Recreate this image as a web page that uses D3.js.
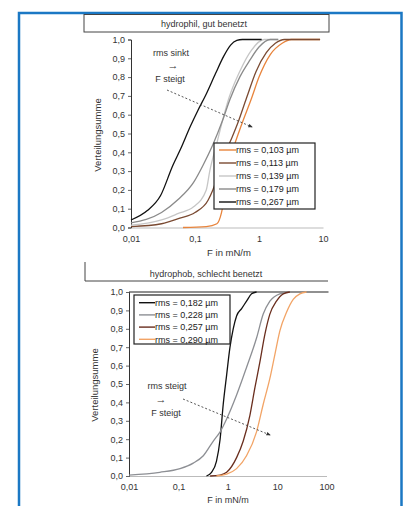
<!DOCTYPE html>
<html><head><meta charset="utf-8">
<script src="https://cdn.jsdelivr.net/npm/d3@7"></script>
<style>
html,body{margin:0;padding:0;background:#fff;}
svg{display:block;font-family:"Liberation Sans",Arial,sans-serif;}
</style></head>
<body>
<svg id="c" width="406" height="506"></svg>
<script>
// ---------- DATA ----------
const yTicks = [0,0.1,0.2,0.3,0.4,0.5,0.6,0.7,0.8,0.9,1.0];
const xTicksTop = [0.01,0.1,1,10];
const xTicksBottom = [0.01,0.1,1,10,100];
const xTickLabelsTop = ["0,01","0,1","1","10"];
const xTickLabelsBottom = ["0,01","0,1","1","10","100"];

const topTitle = "hydrophil, gut benetzt";
const bottomTitle = "hydrophob, schlecht benetzt";
const xTitle = "F in mN/m";
const yTitle = "Verteilungsumme";

const topSeriesNames = ["rms = 0,103 µm","rms = 0,113 µm","rms = 0,139 µm","rms = 0,179 µm","rms = 0,267 µm"];
const topColors = ["#e8843c","#7a4a32","#c6c6c6","#8a8a8a","#111111"];
// [F in mN/m, cumulative share]
const top103 = [[0.065,0],[0.15,0.005],[0.22,0.02],[0.26,0.08],[0.3,0.2],[0.34,0.3],[0.4,0.42],[0.5,0.52],[0.77,0.69],[1.0,0.8],[1.5,0.92],[2.3,0.98],[3.2,1.0],[9,1.0]];
const top113 = [[0.01,0.005],[0.03,0.02],[0.058,0.05],[0.1,0.08],[0.16,0.145],[0.19,0.2],[0.24,0.3],[0.3,0.4],[0.38,0.48],[0.46,0.55],[0.64,0.69],[0.9,0.83],[1.3,0.93],[1.8,0.98],[2.5,1.0],[9,1.0]];
const top139 = [[0.01,0.012],[0.03,0.04],[0.055,0.075],[0.095,0.11],[0.15,0.2],[0.17,0.3],[0.22,0.45],[0.27,0.57],[0.34,0.69],[0.5,0.83],[0.75,0.94],[1.2,1.0],[2,1.0]];
const top179 = [[0.01,0.025],[0.03,0.08],[0.055,0.15],[0.095,0.24],[0.133,0.33],[0.19,0.44],[0.27,0.57],[0.35,0.68],[0.5,0.8],[0.72,0.89],[1.0,0.96],[1.5,1.0],[2,1.0]];
const top267 = [[0.01,0.04],[0.018,0.09],[0.029,0.17],[0.045,0.33],[0.06,0.42],[0.085,0.54],[0.11,0.62],[0.15,0.71],[0.21,0.82],[0.28,0.91],[0.36,0.97],[0.45,0.995],[0.55,1.0],[1.1,1.0]];
const topSeries = [top103, top113, top139, top179, top267];

const bottomSeriesNames = ["rms = 0,182 µm","rms = 0,228 µm","rms = 0,257 µm","rms = 0,290 µm"];
const bottomColors = ["#111111","#8d8f94","#6a2e1e","#f2a466"];
const bot182 = [[0.37,0],[0.47,0.02],[0.59,0.08],[0.7,0.2],[0.81,0.39],[0.95,0.55],[1.11,0.7],[1.29,0.8],[1.51,0.87],[1.91,0.91],[2.4,0.95],[3.04,0.99],[3.83,1.0]];
const bot228 = [[0.01,0.005],[0.042,0.02],[0.108,0.04],[0.2,0.07],[0.32,0.11],[0.51,0.19],[0.7,0.24],[0.95,0.31],[1.51,0.44],[2.4,0.59],[3.83,0.75],[5.23,0.88],[7.13,0.95],[11.4,0.99],[18.1,1.0]];
const bot257 = [[0.44,0],[0.7,0.005],[0.95,0.02],[1.51,0.1],[2.06,0.19],[2.81,0.33],[3.55,0.48],[4.48,0.62],[5.65,0.77],[7.13,0.88],[9.7,0.95],[13.3,0.99],[18.1,1.0]];
const bot290 = [[0.59,0],[0.95,0.01],[1.51,0.04],[2.4,0.11],[3.83,0.24],[5.23,0.39],[7.13,0.53],[9.0,0.66],[11.4,0.79],[15.5,0.89],[21.2,0.96],[28.9,0.99],[39.4,1.0]];
const bottomSeries = [bot182, bot228, bot257, bot290];

const topAnno = ["rms sinkt","→","F steigt"];
const bottomAnno = ["rms steigt","→","F steigt"];

// ---------- DRAW ----------
const svg = d3.select("#c");
const fmtY = d => d3.format(".1f")(d).replace(".", ",");

// outer blue frame
svg.append("path").attr("d","M19,520 V13 H401.5 V520")
  .attr("fill","none").attr("stroke","#1b78c4").attr("stroke-width",2.5);

svg.append("defs").append("marker").attr("id","ah").attr("viewBox","0 0 10 10")
  .attr("refX",8).attr("refY",5).attr("markerWidth",5).attr("markerHeight",5).attr("orient","auto")
  .append("path").attr("d","M0,1 L10,5 L0,9 z").attr("fill","#333");

function panel(opt){
  const g = svg.append("g");
  const x = d3.scaleLog().domain(opt.xDomain).range(opt.xRange);
  const y = d3.scaleLinear().domain([0,1]).range(opt.yRange);

  // title box
  if (opt.fullTitleBox){
    g.append("rect").attr("x",opt.titleBox[0]).attr("y",opt.titleBox[1])
      .attr("width",opt.titleBox[2]-opt.titleBox[0]).attr("height",opt.titleBox[3]-opt.titleBox[1])
      .attr("fill","#fff").attr("stroke","#444").attr("stroke-width",1);
  } else {
    g.append("path").attr("d",`M${opt.titleBox[0]},${opt.titleBox[1]} V${opt.titleBox[3]} H${opt.titleBox[2]}`)
      .attr("fill","none").attr("stroke","#444").attr("stroke-width",1);
  }
  g.append("text").attr("x",opt.titleX).attr("y",opt.titleY).attr("text-anchor","middle")
    .attr("font-size",9).attr("fill","#333").text(opt.title);

  // x axis
  const xa = g.append("g").attr("transform",`translate(0,${opt.yRange[0]})`)
    .call(d3.axisBottom(x).tickValues(opt.xTicks).tickFormat((d,i)=>opt.xLabels[i]).tickSize(0).tickPadding(8));
  xa.select(".domain").attr("stroke","#bbb");
  xa.selectAll("text").attr("font-size",9).attr("fill","#333").attr("font-family","Liberation Sans, Arial, sans-serif");

  // y axis
  const ya = g.append("g").attr("transform",`translate(${opt.xRange[0]},0)`)
    .call(d3.axisLeft(y).tickValues(yTicks).tickFormat(fmtY).tickSize(3).tickPadding(3));
  ya.select(".domain").attr("stroke","#333");
  ya.selectAll("line").attr("stroke","#666");
  ya.selectAll("text").attr("font-size",9).attr("fill","#333").attr("font-family","Liberation Sans, Arial, sans-serif");

  if (opt.topLine){
    g.append("line").attr("x1",opt.xRange[0]).attr("x2",opt.xRange[1]+2)
      .attr("y1",opt.yRange[1]).attr("y2",opt.yRange[1]).attr("stroke","#222").attr("stroke-width",1.2);
  }

  // axis titles
  g.append("text").attr("x",opt.xTitleX).attr("y",opt.xTitleY).attr("text-anchor","middle")
    .attr("font-size",opt.xTitleSize).attr("fill","#333").text(xTitle);
  g.append("text").attr("transform",`translate(${opt.yTitleX},${opt.yTitleY}) rotate(-90)`)
    .attr("text-anchor","middle").attr("font-size",9.5).attr("fill","#333").text(yTitle);

  // curves
  const line = d3.line().x(d=>x(d[0])).y(d=>y(d[1])).curve(d3.curveMonotoneX);
  opt.series.forEach((s,i)=>{
    g.append("path").datum(s).attr("d",line).attr("fill","none")
      .attr("stroke",opt.colors[i]).attr("stroke-width",1.3).attr("stroke-linejoin","round");
  });

  // annotation
  opt.anno.forEach((t,i)=>{
    g.append("text").attr("x",opt.annoX[i]).attr("y",opt.annoY[i]).attr("text-anchor","middle")
      .attr("font-size",i===1?11:9).attr("fill","#333").text(t);
  });
  g.append("line").attr("x1",opt.arrow[0]).attr("y1",opt.arrow[1]).attr("x2",opt.arrow[2]).attr("y2",opt.arrow[3])
    .attr("stroke","#444").attr("stroke-width",0.9).attr("stroke-dasharray","2,2").attr("marker-end","url(#ah)");

  // legend
  const L = opt.legend;
  g.append("rect").attr("x",L.x).attr("y",L.y).attr("width",L.w).attr("height",L.h)
    .attr("fill","#fff").attr("stroke","#222").attr("stroke-width",1.2);
  opt.names.forEach((n,i)=>{
    const yy = L.y0 + i*L.dy;
    g.append("line").attr("x1",L.lx0).attr("x2",L.lx1).attr("y1",yy).attr("y2",yy)
      .attr("stroke",opt.colors[i]).attr("stroke-width",1.4);
    g.append("text").attr("x",L.lx1).attr("y",yy+3.2).attr("font-size",9).attr("fill","#222").text(n);
  });
}

panel({
  xDomain:[0.01,10], xRange:[131,323], yRange:[227.5,39.5],
  xTicks:xTicksTop, xLabels:xTickLabelsTop,
  title:topTitle, titleBox:[84,14.5,329,32], fullTitleBox:true, titleX:204, titleY:27,
  xTitleX:229, xTitleY:256, xTitleSize:9.5, yTitleX:101, yTitleY:135,
  series:topSeries, colors:topColors, names:topSeriesNames,
  anno:topAnno, annoX:[171,173,170], annoY:[56,69,82], arrow:[167,90,252,127],
  legend:{x:214,y:143,w:101,h:66,y0:150,dy:13,lx0:219,lx1:236},
  topLine:false
});

panel({
  xDomain:[0.01,100], xRange:[129,326.5], yRange:[476,292],
  xTicks:xTicksBottom, xLabels:xTickLabelsBottom,
  title:bottomTitle, titleBox:[85,262,328,281], fullTitleBox:false, titleX:206, titleY:277,
  xTitleX:228, xTitleY:502.5, xTitleSize:9, yTitleX:98, yTitleY:385,
  series:bottomSeries, colors:bottomColors, names:bottomSeriesNames,
  anno:bottomAnno, annoX:[167,161,166], annoY:[389,403,416], arrow:[183,399,270,435],
  legend:{x:134,y:295,w:96,h:49,y0:302.7,dy:12.2,lx0:139,lx1:155},
  topLine:true
});
</script>
</body></html>
